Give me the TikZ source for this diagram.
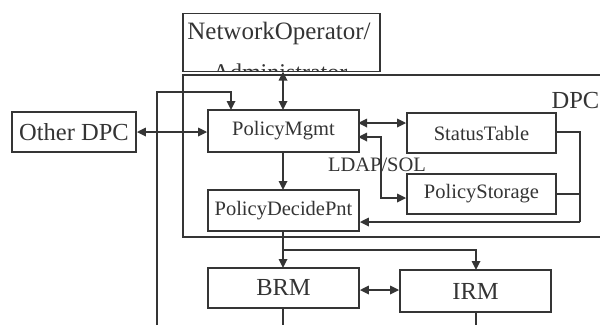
\documentclass[tikz,border=0pt]{standalone}
\usepackage{fontspec}
\setmainfont{Liberation Serif}
\usetikzlibrary{arrows.meta}
\definecolor{ink}{HTML}{353535}
\definecolor{txt}{HTML}{343434}
\tikzset{
  box/.style={draw=ink, line width=1.8pt, rectangle, inner sep=0pt, text=txt},
  lbl/.style={font=\fontsize{20.5}{22}\selectfont},
  big/.style={font=\fontsize{24.5}{27}\selectfont},
  conn/.style={draw=ink, line width=1.7pt, -{Triangle[length=9pt,width=8.5pt]}},
  biconn/.style={draw=ink, line width=1.7pt, {Triangle[length=9pt,width=8.5pt]}-{Triangle[length=9pt,width=8.5pt]}},
  plain/.style={draw=ink, line width=1.7pt},
}
\begin{document}
\begin{tikzpicture}[x=1pt,y=-1pt]
\useasboundingbox (0,0) rectangle (600,325);

% DPC frame, open to the right
\draw[plain, line width=1.8pt] (610,75) -- (183,75) -- (183,237) -- (610,237);
\node[txt, big, anchor=east, inner sep=0pt] (dpclabel) at (599.5,101) {DPC};

% operator box with its second line partly hidden
\node[box, minimum width=197pt, minimum height=58pt] (no) at (281.5,42.5) {};
\node[txt, font=\fontsize{25}{27}\selectfont, inner sep=0pt] (nol1) at (279,33) {NetworkOperator/};
\begin{scope}
  \clip (185,15) rectangle (379,70.5);
  \node[txt, font=\fontsize{24}{26}\selectfont, anchor=north, inner sep=0pt] (nol2) at (280,64) {Administrator};
\end{scope}

% boxes
\node[box, big, minimum width=124pt, minimum height=40pt] (other) at (74,132) {Other DPC};
\node[box, lbl, minimum width=151pt, minimum height=42pt] (pm) at (283.5,131) {PolicyMgmt};
\node[box, lbl, minimum width=149pt, minimum height=40pt] (st) at (481.5,133) {StatusTable};
\node[box, lbl, minimum width=149pt, minimum height=40pt] (ps) at (481.5,194) {PolicyStorage};
\node[box, lbl, minimum width=151pt, minimum height=41pt] (pdp) at (283.5,210.5) {PolicyDecidePnt};
\node[box, big, minimum width=151pt, minimum height=40pt] (brm) at (283.5,288) {BRM};
\node[box, big, minimum width=151pt, minimum height=42pt] (irm) at (475.5,291) {IRM};
\node[txt, lbl, inner sep=0pt] (ldap) at (377,165) {LDAP/SOL};

% junction points
\coordinate (leftbot) at (157,325);
\coordinate (lefttop) at (157,92);
\coordinate (rbus) at (580,132);
\coordinate (split) at (283,250);
\coordinate (brmbot) at (283,325);
\coordinate (irmbot) at (476,325);

% connectors
\draw[conn] (leftbot) -- (lefttop) -- (231,92) -- (231,110);
\draw[biconn] (other.east) -- (pm.west |- other.east);
\draw[biconn] (283,71.5) -- (283,110);
\draw[biconn] (358,123) -- (st.west |- 0,123);
\draw[biconn] (358,137) -- (381,137) -- (381,198) -- (ps.west |- 0,198);
\draw[plain] (st.east |- rbus) -- (rbus) -- (580,222);
\draw[plain] (ps.east) -- (580,194);
\draw[conn] (580,222) -- (pdp.east |- 0,222);
\draw[conn] (283,152) -- (283,190);
\draw[plain] (283,231) -- (split);
\draw[conn] (split) -- (283,268);
\draw[conn] (split) -- (476,250) -- (476,270);
\draw[biconn] (brm.east |- 0,290) -- (irm.west |- 0,290);
\draw[plain] (283,308) -- (brmbot);
\draw[plain] (476,312) -- (irmbot);
\end{tikzpicture}
\end{document}
